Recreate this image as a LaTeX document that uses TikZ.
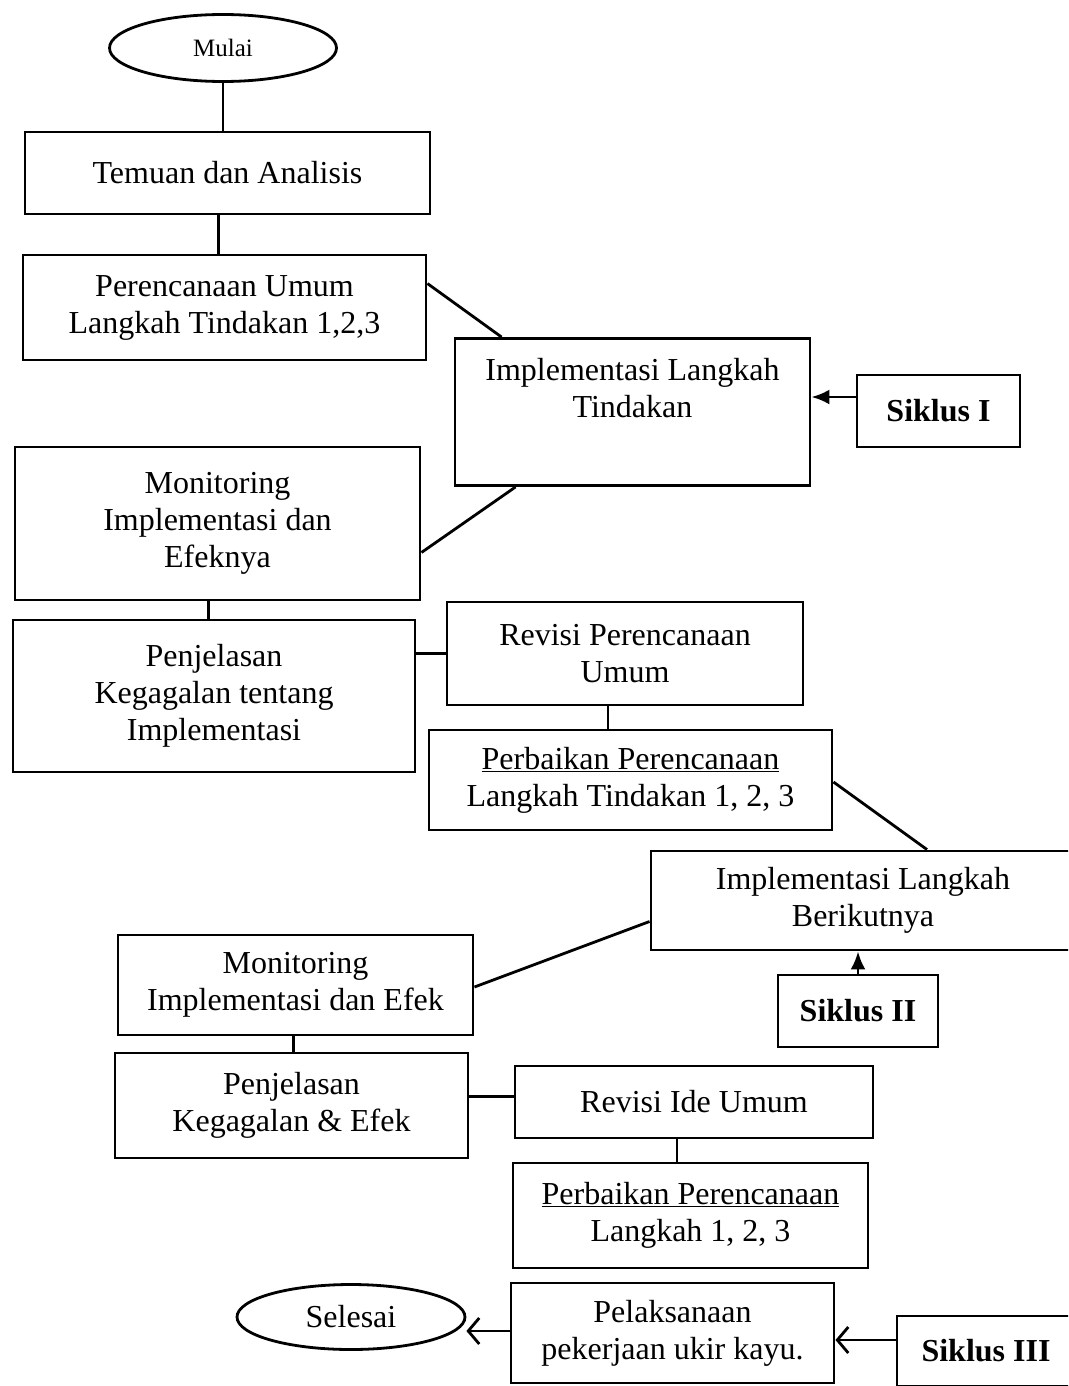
\documentclass[tikz,border=0pt]{standalone}
\usepackage{fontspec}
\setmainfont{Liberation Serif}
\usetikzlibrary{arrows.meta,shapes.geometric}
\tikzset{
  boxnode/.style={draw, line width=2.9pt, rectangle, inner sep=0pt, align=center,
    font=\fontsize{32pt}{37pt}\selectfont},
  ovalnode/.style={draw, line width=2.8pt, ellipse, inner sep=0pt, align=center},
  conn/.style={line width=2.8pt},
  filledarrow/.style={conn, -{Latex[length=18pt,width=15pt]}},
  openarrow/.style={conn, -{Straight Barb[length=11pt,width=26pt,line width=2.8pt]}},
  bold/.style={font=\fontsize{32pt}{37pt}\selectfont\bfseries}
}
\begin{document}
\begin{tikzpicture}[x=1pt,y=-1pt]
\useasboundingbox (0,0) rectangle (1068,1386);
\clip (0,0) rectangle (1068,1386);
\fill[white] (0,0) rectangle (1068,1386);

% nodes
\node[ovalnode, minimum width=227pt, minimum height=67pt, font=\fontsize{25pt}{30pt}\selectfont] (mulai) at (223,48) {Mulai};
\node[boxnode, minimum width=405pt, minimum height=82pt] (temuan) at (227.5,173) {Temuan dan Analisis};
\node[boxnode, minimum width=403pt, minimum height=105pt] (peren) at (224.5,307.5) {Perencanaan Umum\\Langkah Tindakan 1,2,3};
\node[boxnode, minimum width=355pt, minimum height=147pt] (impl1) at (632.5,412) {Implementasi Langkah\\Tindakan\\[0pt]\strut};
\node[boxnode, bold, minimum width=163pt, minimum height=72pt] (siklus1) at (938.5,411) {Siklus I};
\node[boxnode, minimum width=405pt, minimum height=153pt] (mon1) at (217.5,523.5) {Monitoring\\Implementasi dan\\Efeknya};
\node[boxnode, minimum width=402pt, minimum height=152pt] (penj1) at (214,696) {Penjelasan\\Kegagalan tentang\\Implementasi};
\node[boxnode, minimum width=356pt, minimum height=103pt] (revisi1) at (625,653.5) {Revisi Perencanaan\\Umum};
\node[boxnode, minimum width=403pt, minimum height=100pt] (perb1) at (630.5,780) {\underline{Perbaikan Perencanaan}\\Langkah Tindakan 1, 2, 3};
\node[boxnode, minimum width=424pt, minimum height=99pt] (impl2) at (863,900.5) {Implementasi Langkah\\Berikutnya};
\node[boxnode, bold, minimum width=160pt, minimum height=72pt] (siklus2) at (858,1011) {Siklus II};
\node[boxnode, minimum width=355pt, minimum height=100pt] (mon2) at (295.5,985) {Monitoring\\Implementasi dan Efek};
\node[boxnode, minimum width=353pt, minimum height=105pt] (penj2) at (291.5,1105.5) {Penjelasan\\Kegagalan \& Efek};
\node[boxnode, minimum width=358pt, minimum height=72pt] (revisi2) at (694,1102) {Revisi Ide Umum};
\node[boxnode, minimum width=355pt, minimum height=105pt] (perb2) at (690.5,1215.5) {\underline{Perbaikan Perencanaan}\\Langkah 1, 2, 3};
\node[ovalnode, minimum width=228pt, minimum height=65pt, font=\fontsize{32pt}{37pt}\selectfont] (selesai) at (351,1317) {Selesai};
\node[boxnode, minimum width=323pt, minimum height=100pt] (pelak) at (672.5,1333) {Pelaksanaan\\pekerjaan ukir kayu.};
\node[boxnode, bold, minimum width=178pt, minimum height=70pt] (siklus3) at (986,1351) {Siklus III};

% connectors
\draw[conn] (mulai.south) -- (mulai.south |- temuan.north);
\draw[conn] ([xshift=-9pt]temuan.south) -- ([xshift=-9pt]temuan.south |- peren.north);
\draw[conn] ([yshift=-30pt]peren.north east) -- ([xshift=48pt]impl1.north west);
\draw[filledarrow] ([yshift=14pt]siklus1.west) -- ([yshift=14pt]siklus1.west -| impl1.east);
\draw[conn] ([xshift=62pt]impl1.south west) -- ([yshift=-29pt]mon1.east);
\draw[conn] ([xshift=-9pt]mon1.south) -- ([xshift=-9pt]mon1.south |- penj1.north);
\draw[conn] (revisi1.west -| penj1.east) -- (revisi1.west);
\draw[conn] ([xshift=-17pt]revisi1.south) -- ([xshift=-17pt]revisi1.south |- perb1.north);
\draw[conn] ([yshift=-2pt]perb1.east) -- ([xshift=64pt]impl2.north);
\draw[filledarrow] (siklus2.north) -- (siklus2.north |- impl2.south);
\draw[conn] ([yshift=-21pt]impl2.west) -- ([yshift=-2pt]mon2.east);
\draw[conn] ([xshift=-2pt]mon2.south) -- ([xshift=-2pt]mon2.south |- penj2.north);
\draw[conn] ([yshift=9pt]penj2.east) -- ([yshift=9pt]penj2.east -| revisi2.west);
\draw[conn] ([xshift=-17pt]revisi2.south) -- ([xshift=-17pt]revisi2.south |- perb2.north);
\draw[openarrow] ([yshift=2pt]pelak.west) -- ([yshift=2pt]pelak.west -| selesai.east);
\draw[openarrow] ([yshift=11pt]siklus3.west) -- ([yshift=11pt]siklus3.west -| pelak.east);
\end{tikzpicture}
\end{document}
